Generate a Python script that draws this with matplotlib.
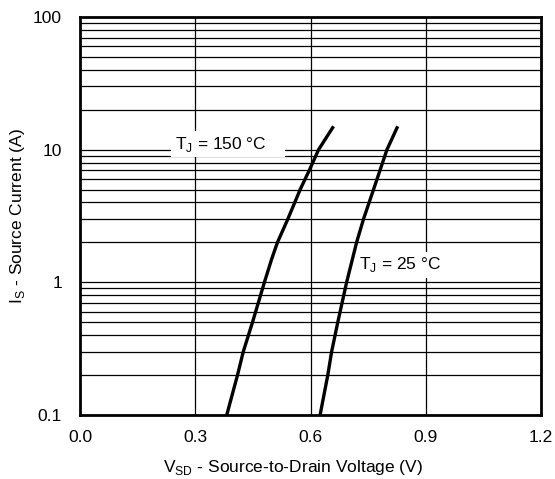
import matplotlib.pyplot as plt
import numpy as np
from matplotlib.ticker import FixedLocator, NullFormatter

plt.rcParams['font.family'] = ['Liberation Sans', 'DejaVu Sans']
plt.rcParams['mathtext.fontset'] = 'custom'
plt.rcParams['mathtext.rm'] = 'Liberation Sans'

# curve points (V at each grid current)
v_150 = [0.382, 0.410, 0.425, 0.449, 0.480, 0.499, 0.514, 0.541, 0.573, 0.597, 0.621, 0.660]
i_150 = [0.1, 0.2, 0.3, 0.5, 1.0, 1.5, 2.0, 3.0, 5.0, 7.0, 10.0, 15.0]
v_25 = [0.625, 0.645, 0.655, 0.671, 0.694, 0.720, 0.738, 0.764, 0.799, 0.827]
i_25 = [0.1, 0.2, 0.3, 0.5, 1.0, 2.0, 3.0, 5.0, 10.0, 15.0]

x_ticks = [0.0, 0.3, 0.6, 0.9, 1.2]
x_labels = ['0.0', '0.3', '0.6', '0.9', '1.2']
y_ticks = [0.1, 1, 10, 100]
y_labels = ['0.1', '1', '10', '100']

fs = 12.5

fig = plt.figure(figsize=(5.55, 4.79), dpi=100)
ax = fig.add_axes([80/555, 1-415/479, 461/555, 398/479])

ax.set_xlim(0, 1.2)
ax.set_yscale('log')
ax.set_ylim(0.1, 100)

# grid: vertical majors, horizontal at every log step
for xv in x_ticks[1:-1]:
    ax.axvline(xv, color='black', lw=0.9, zorder=1)
for dec in [0.1, 1, 10]:
    for m in range(1, 10):
        yv = dec*m
        if 0.1 < yv < 100:
            ax.axhline(yv, color='black', lw=0.9, zorder=1)

ax.plot(v_150, i_150, color='black', lw=2.4, zorder=3, solid_capstyle='butt')
ax.plot(v_25, i_25, color='black', lw=2.4, zorder=3, solid_capstyle='butt')

box = dict(facecolor='white', edgecolor='none', pad=2.5)
ax.text(0.247, 11.0, r'T$_\mathregular{J}$ = 150 °C    ', fontsize=fs,
        ha='left', va='center', bbox=box, zorder=2)
ax.text(0.727, 1.36, r'T$_\mathregular{J}$ = 25 °C', fontsize=fs,
        ha='left', va='center', bbox=box, zorder=2)

ax.xaxis.set_major_locator(FixedLocator(x_ticks))
ax.set_xticklabels(x_labels)
ax.yaxis.set_major_locator(FixedLocator(y_ticks))
ax.set_yticklabels(y_labels)
ax.yaxis.set_minor_formatter(NullFormatter())
ax.tick_params(which='both', length=0, labelsize=fs)
ax.tick_params(axis='x', pad=10.5)
ax.tick_params(axis='y', pad=13)

for s in ax.spines.values():
    s.set_linewidth(2)
    s.set_zorder(4)

ax.set_xlabel(r'V$_\mathregular{SD}$ - Source-to-Drain Voltage (V)', fontsize=fs)
ax.set_ylabel(r'I$_\mathregular{S}$ - Source Current (A)', fontsize=fs)
ax.xaxis.set_label_coords(0.461, -0.108)
ax.yaxis.set_label_coords(-0.115, 0.5)

fig.savefig('out.png', dpi=100)
